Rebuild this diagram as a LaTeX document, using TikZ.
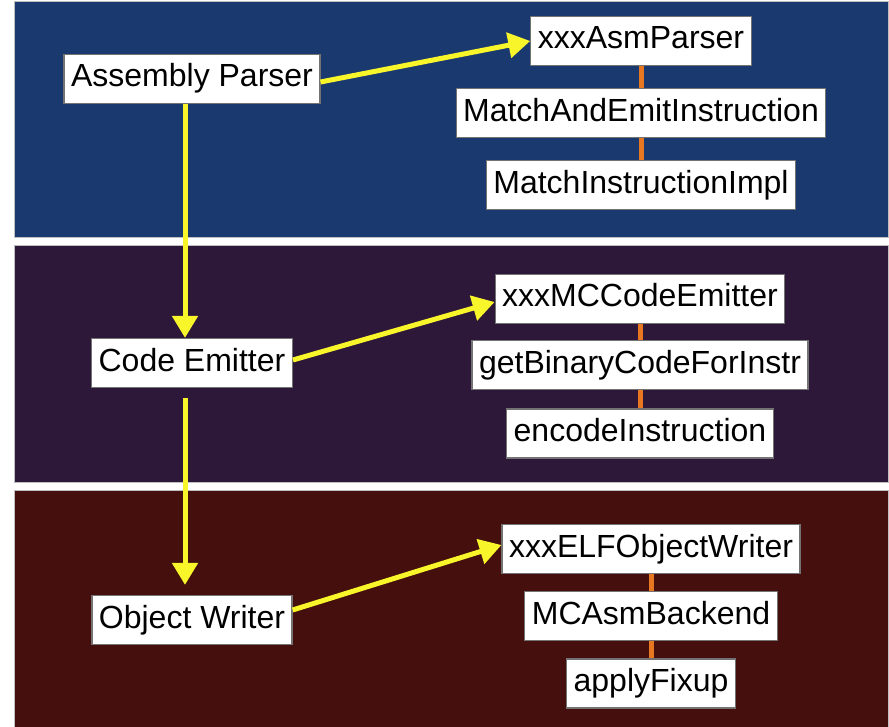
\documentclass[tikz,border=0pt]{standalone}
\usepackage{fontspec}
\setmainfont{Liberation Sans}
\usepackage{xcolor}
\definecolor{bandblue}{HTML}{1A3A6F}
\definecolor{bandpurple}{HTML}{2E183A}
\definecolor{bandred}{HTML}{440F0C}
\definecolor{flowyellow}{HTML}{F8F52A}
\definecolor{linkorange}{HTML}{E87722}
\usetikzlibrary{arrows.meta, positioning}

\begin{document}
\begin{tikzpicture}[x=1pt, y=-1pt,
	band/.style={draw=black!25, line width=1pt},
	box/.style={rectangle, draw=black!55, line width=1.2pt, fill=white,
	            font=\fontsize{32}{38}\selectfont, inner xsep=7pt, inner ysep=0pt,
	            minimum height=49pt, text height=23pt, text depth=7pt},
	flow/.style={-{Triangle[length=22pt, width=25pt]}, draw=flowyellow, line width=5pt},
	link/.style={draw=linkorange, line width=5pt}
	]
	\useasboundingbox (0,0) rectangle (889,727);

	% three stages
	\fill[band, fill=bandblue] (14,2) rectangle (888,238);
	\fill[band, fill=bandpurple] (14,246) rectangle (888,482);
	\fill[band, fill=bandred] (14,490) rectangle (888,727);

	\node[box] (asmparser) at (192,79) {Assembly Parser};
	\node[box] (codeemitter) at (192,363) {Code Emitter};
	\node[box] (objwriter) at (192,620) {Object Writer};

	\node[box] (xasm) at (641,41) {xxxAsmParser};
	\node[box, below=22pt of xasm] (matchemit) {MatchAndEmitInstruction};
	\node[box, below=22pt of matchemit] (matchimpl) {MatchInstructionImpl};

	\node[box] (xmc) at (640,299) {xxxMCCodeEmitter};
	\node[box, below=16pt of xmc] (getbin) {getBinaryCodeForInstr};
	\node[box, below=18pt of getbin] (encode) {encodeInstruction};

	\node[box] (xelf) at (651,549) {xxxELFObjectWriter};
	\node[box, below=17pt of xelf] (asmbackend) {MCAsmBackend};
	\node[box, below=17pt of asmbackend] (fixup) {applyFixup};

	\draw[link] (xasm) -- (matchemit);
	\draw[link] (matchemit) -- (matchimpl);
	\draw[link] (xmc) -- (getbin);
	\draw[link] (getbin) -- (encode);
	\draw[link] (xelf) -- (asmbackend);
	\draw[link] (asmbackend) -- (fixup);

	\draw[flow] ([xshift=-7pt]asmparser.south) -- ([xshift=-7pt]codeemitter.north);
	\draw[flow] ([xshift=-7pt, yshift=-10pt]codeemitter.south) -- ([xshift=-7pt, yshift=10pt]objwriter.north);
	\draw[flow] ([yshift=-3pt]asmparser.east) -- (xasm.west);
	\draw[flow] ([yshift=3pt]codeemitter.east) -- ([yshift=-3pt]xmc.west);
	\draw[flow] ([yshift=10pt]objwriter.east) -- ([yshift=4pt]xelf.west);
\end{tikzpicture}
\end{document}
